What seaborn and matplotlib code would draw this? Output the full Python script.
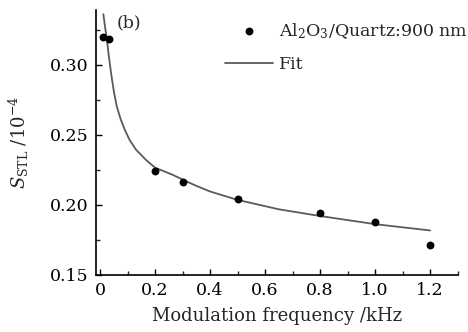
import matplotlib
matplotlib.use("Agg")
import matplotlib.pyplot as plt
import seaborn as sns
import pandas as pd

# measured data
freq_khz = [0.011, 0.033, 0.2, 0.3, 0.5, 0.8, 1.0, 1.2]
s_stl = [0.320, 0.318, 0.224, 0.216, 0.204, 0.194, 0.188, 0.171]

# fit curve
fit_x = [0.012, 0.018, 0.025, 0.03, 0.04, 0.05, 0.061, 0.075, 0.09, 0.107, 0.13,
         0.167, 0.2, 0.264, 0.3, 0.35, 0.4, 0.5, 0.65, 0.8, 1.0, 1.2]
fit_y = [0.336, 0.327, 0.318, 0.309, 0.294, 0.281, 0.270, 0.261, 0.2535, 0.2464, 0.2395,
         0.232, 0.2265, 0.2214, 0.2180, 0.2135, 0.2095, 0.2035, 0.1968, 0.1920, 0.1862, 0.1817]

x_ticks = [0, 0.2, 0.4, 0.6, 0.8, 1.0, 1.2]
x_tick_labels = ["0", "0.2", "0.4", "0.6", "0.8", "1.0", "1.2"]
y_ticks = [0.15, 0.20, 0.25, 0.30]
y_tick_labels = ["0.15", "0.20", "0.25", "0.30"]

sns.set_theme(style="ticks")
plt.rcParams["font.family"] = ["DejaVu Serif"]
plt.rcParams["mathtext.fontset"] = "dejavuserif"

fig = plt.figure(figsize=(4.68, 3.32), dpi=100)
ax = fig.add_axes([0.205, 0.172, 0.774, 0.798])

df_pts = pd.DataFrame({"f": freq_khz, "s": s_stl})
df_fit = pd.DataFrame({"f": fit_x, "s": fit_y})

sns.lineplot(data=df_fit, x="f", y="s", ax=ax, color="#5a5a5a", linewidth=1.3,
             label="Fit", sort=True, estimator=None)
sns.scatterplot(data=df_pts, x="f", y="s", ax=ax, color="black", s=32,
                edgecolor="black", linewidth=0, zorder=3,
                label=r"Al$_2$O$_3$/Quartz:900 nm")

ax.set_xlim(-0.015, 1.302)
ax.set_ylim(0.15, 0.339)
ax.set_xticks(x_ticks)
ax.set_xticklabels(x_tick_labels)
ax.set_yticks(y_ticks)
ax.set_yticklabels(y_tick_labels)
ax.set_xticks([0.1, 0.3, 0.5, 0.7, 0.9, 1.1, 1.3], minor=True)
ax.set_yticks([0.175, 0.225, 0.275, 0.325], minor=True)
ax.tick_params(axis="both", which="major", direction="in", length=4, width=1,
               labelsize=12.5, colors="black", pad=5)
ax.tick_params(axis="both", which="minor", direction="in", length=3, width=1)
for side in ["top", "right"]:
    ax.spines[side].set_visible(False)
for side in ["left", "bottom"]:
    ax.spines[side].set_linewidth(1.2)
    ax.spines[side].set_color("black")

ax.set_xlabel("Modulation frequency /kHz", fontsize=13, labelpad=6)
ax.set_ylabel(r"$\mathit{S}_{\mathrm{STL}}$ /10$^{-4}$", fontsize=13, labelpad=14)

ax.text(0.058, 0.985, "(b)", transform=ax.transAxes, fontsize=12.5, va="top", ha="left")

handles, labels = ax.get_legend_handles_labels()
order = [1, 0]
ax.legend([handles[i] for i in order], [labels[i] for i in order],
          loc="upper right", bbox_to_anchor=(1.045, 0.985), frameon=False,
          fontsize=12.5, handlelength=2.8, handletextpad=0.3, labelspacing=0.9,
          borderaxespad=0.0)

fig.savefig("out.png", dpi=100)
